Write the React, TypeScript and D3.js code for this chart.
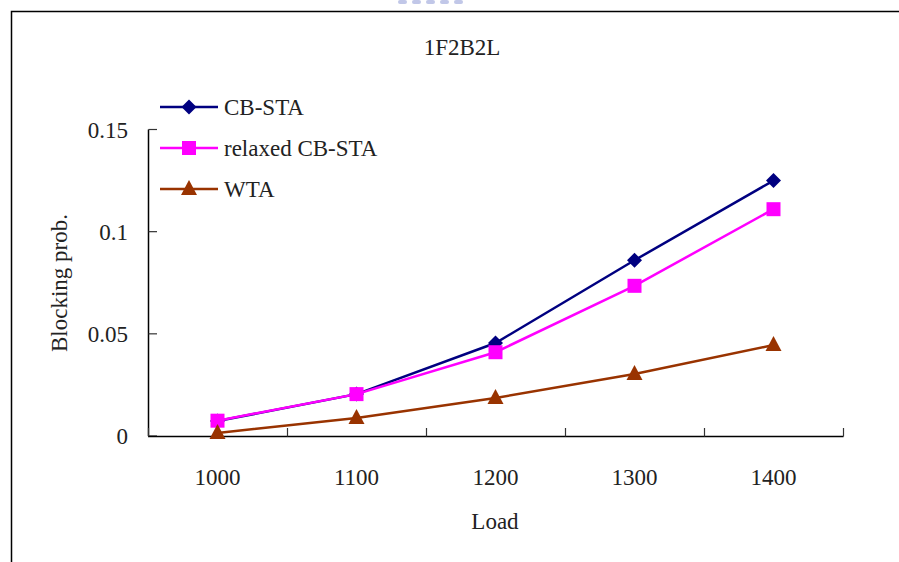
import * as d3 from "d3";

const loads = ["1000", "1100", "1200", "1300", "1400"];
const cbSta = [0.0073, 0.0205, 0.0455, 0.086, 0.125];
const relaxedCbSta = [0.0075, 0.0205, 0.041, 0.0735, 0.111];
const wta = [0.0015, 0.0088, 0.0186, 0.0303, 0.0445];
const yTicks = [0, 0.05, 0.1, 0.15];

const W = 899;
const H = 562;
const FONT =
  "'Liberation Serif', 'Noto Serif', 'Noto Serif CJK TC', 'DejaVu Serif', Tinos, FreeSerif, 'Times New Roman', Times, serif";
const FS = 23;

const series = [
  { name: "CB-STA", values: cbSta, color: "#000080", shape: "diamond" },
  { name: "relaxed CB-STA", values: relaxedCbSta, color: "#FF00FF", shape: "square" },
  { name: "WTA", values: wta, color: "#993300", shape: "triangle" },
];

const Marker = ({ x, y, shape, color }: { x: number; y: number; shape: string; color: string }) => {
  if (shape === "diamond") {
    const r = 7.5;
    return <path d={`M${x},${y - r}L${x + r},${y}L${x},${y + r}L${x - r},${y}Z`} fill={color} />;
  }
  if (shape === "square") {
    return <rect x={x - 7} y={y - 7} width={14} height={14} fill={color} />;
  }
  return <path d={`M${x},${y - 9}L${x + 8},${y + 6}L${x - 8},${y + 6}Z`} fill={color} />;
};

export default function App() {
  const x = d3.scaleBand().domain(loads).range([148, 843]);
  const y = d3.scaleLinear().domain([0, 0.15]).range([436, 129.5]);
  const cx = (d: string) => (x(d) ?? 0) + x.bandwidth() / 2;

  const line = d3
    .line<number>()
    .x((_, i) => cx(loads[i]))
    .y((v) => y(v));

  const bounds = [...loads.map((d) => x(d) ?? 0), 843];
  const textProps = { fontSize: FS, fill: "#222", style: { fontFamily: FONT } };

  return (
    <svg width={W} height={H} style={{ position: "absolute", left: 0, top: 0, background: "#fff" }}>
      {/* faint watermark remnant at the top */}
      <g fill="#8f9bd6" opacity={0.55}>
        {[398, 412, 426, 440, 454].map((px, i) => (
          <rect key={i} x={px} y={0} width={9} height={4} rx={2} />
        ))}
      </g>

      {/* outer frame */}
      <path d={`M11.5,${H}V11.5H${W}`} fill="none" stroke="#000" strokeWidth={1.5} />

      <text x={462} y={55} textAnchor="middle" {...textProps}>
        1F2B2L
      </text>

      {/* y axis */}
      <line x1={148.5} x2={148.5} y1={y(0.15)} y2={y(0)} stroke="#000" strokeWidth={1.5} />
      {yTicks.map((t) => (
        <g key={t}>
          <line x1={148.5} x2={157} y1={y(t)} y2={y(t)} stroke="#333" strokeWidth={1.2} />
          <text x={128} y={y(t) + 8} textAnchor="end" {...textProps}>
            {t === 0 ? "0" : String(t)}
          </text>
        </g>
      ))}

      {/* x axis */}
      <line x1={148} x2={843.5} y1={436.5} y2={436.5} stroke="#000" strokeWidth={1.5} />
      {bounds.map((b, i) => (
        <line key={i} x1={b + 0.5} x2={b + 0.5} y1={428} y2={436.5} stroke="#333" strokeWidth={1.2} />
      ))}
      {loads.map((d) => (
        <text key={d} x={cx(d)} y={485} textAnchor="middle" {...textProps}>
          {d}
        </text>
      ))}

      <text x={495} y={529} textAnchor="middle" {...textProps}>
        Load
      </text>
      <text transform={`translate(67,${283}) rotate(-90)`} textAnchor="middle" {...textProps}>
        Blocking prob.
      </text>

      {/* series */}
      {series.map((s) => (
        <g key={s.name}>
          <path d={line(s.values) ?? ""} fill="none" stroke={s.color} strokeWidth={2.5} />
          {s.values.map((v, i) => (
            <Marker key={i} x={cx(loads[i])} y={y(v)} shape={s.shape} color={s.color} />
          ))}
        </g>
      ))}

      {/* legend */}
      {series.map((s, i) => {
        const ly = 107 + i * 41;
        return (
          <g key={s.name}>
            <line x1={160} x2={218} y1={ly} y2={ly} stroke={s.color} strokeWidth={2.5} />
            <Marker x={189} y={ly} shape={s.shape} color={s.color} />
            <text x={224} y={ly + 8} {...textProps}>
              {s.name}
            </text>
          </g>
        );
      })}
    </svg>
  );
}
